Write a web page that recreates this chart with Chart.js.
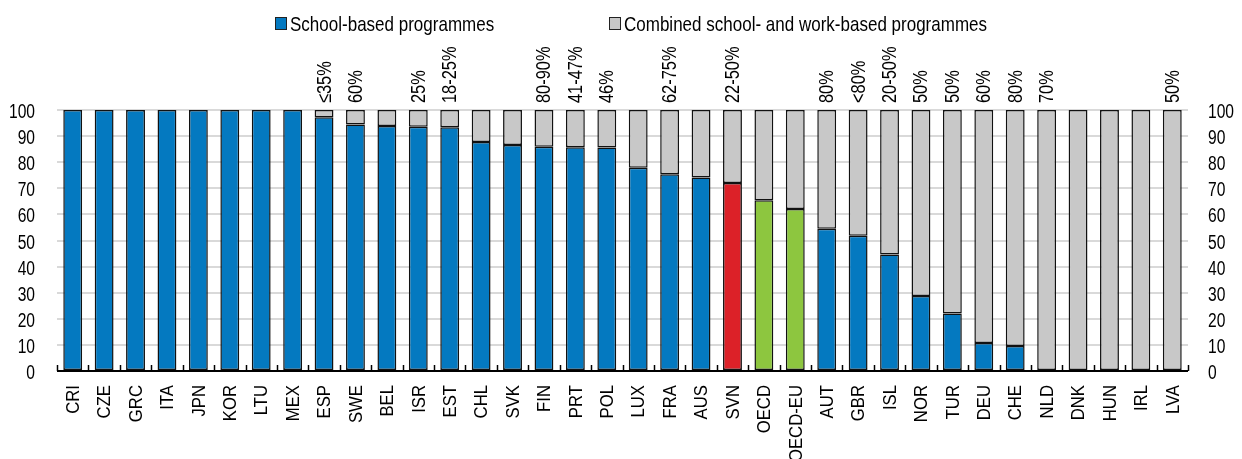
<!DOCTYPE html>
<html>
<head>
<meta charset="utf-8">
<script src="https://cdn.jsdelivr.net/npm/chart.js@4"></script>
<style>
  body { margin: 0; background: #fff; }
</style>
</head>
<body>
<canvas id="chart" width="1242" height="459"></canvas>
<script>
const countries = ['CRI','CZE','GRC','ITA','JPN','KOR','LTU','MEX','ESP','SWE','BEL','ISR','EST','CHL','SVK','FIN','PRT','POL','LUX','FRA','AUS','SVN','OECD','OECD-EU','AUT','GBR','ISL','NOR','TUR','DEU','CHE','NLD','DNK','HUN','IRL','LVA'];
const schoolBased = [100,100,100,100,100,100,100,100,97.2,94.4,93.9,93.6,93.4,87.7,86.6,85.9,85.7,85.6,77.9,75.4,74.1,72.0,65.4,62.1,54.5,51.8,44.6,28.7,22.0,10.7,9.6,0,0,0,0,0];
const combined = schoolBased.map(v => +(100 - v).toFixed(1));
const topNotes = ['','','','','','','','','≤35%','60%','','25%','18-25%','','','80-90%','41-47%','46%','','62-75%','','22-50%','','','80%','<80%','20-50%','50%','50%','60%','80%','70%','','','','50%'];
const legendLabels = ['School-based programmes', 'Combined school- and work-based programmes'];

const BLUE = '#0479c0', GREY = '#c8c8c8', RED = '#dc2128', GREEN = '#8dc63f';
const highlight = { 'SVN': RED, 'OECD': GREEN, 'OECD-EU': GREEN };
const FONT = "'Liberation Sans', Arial, sans-serif";

// condensed text helper (no narrow font available)
function narrowText(ctx, text, x, y, size, squeeze, align, rot) {
  ctx.save();
  ctx.translate(x, y);
  if (rot) ctx.rotate(rot);
  ctx.scale(squeeze, 1);
  ctx.font = size + 'px ' + FONT;
  ctx.textAlign = align;
  ctx.fillText(text, 0, 0);
  ctx.restore();
}

const extras = {
  id: 'extras',
  afterDatasetsDraw(chart) {
    const ctx = chart.ctx, x = chart.scales.x, y = chart.scales.y, area = chart.chartArea;
    ctx.save();
    // axis line and inward tick marks
    ctx.strokeStyle = '#000';
    ctx.lineWidth = 2;
    ctx.beginPath();
    ctx.moveTo(area.left, area.bottom);
    ctx.lineTo(area.right, area.bottom);
    ctx.stroke();
    ctx.lineWidth = 1.5;
    const step = (area.right - area.left) / countries.length;
    for (let i = 0; i <= countries.length; i++) {
      const px = Math.round(area.left + i * step) + 0.5;
      ctx.beginPath();
      ctx.moveTo(px, area.bottom);
      ctx.lineTo(px, area.bottom - 6);
      ctx.stroke();
    }
    ctx.fillStyle = '#000';
    ctx.textBaseline = 'alphabetic';
    // y tick labels, both sides
    y.ticks.forEach(t => {
      const py = y.getPixelForValue(t.value) + 8;
      narrowText(ctx, String(t.value), area.left - 22, py, 20, 0.78, 'right');
      narrowText(ctx, String(t.value), area.right + 20, py, 20, 0.78, 'left');
    });
    // category labels, rotated
    ctx.textBaseline = 'middle';
    x.getLabels().forEach((lab, i) => {
      narrowText(ctx, lab, x.getPixelForValue(i) + 1, area.bottom + 14, 19, 0.88, 'right', -Math.PI / 2);
    });
    // percentage notes above bars
    topNotes.forEach((t, i) => {
      if (t) narrowText(ctx, t, x.getPixelForValue(i) + 1, area.top - 7, 20, 0.82, 'left', -Math.PI / 2);
    });
    // legend
    const items = [[275, BLUE], [609, GREY]];
    ctx.textBaseline = 'alphabetic';
    items.forEach(([lx, col], i) => {
      ctx.fillStyle = col;
      ctx.fillRect(lx + 0.5, 17.5, 11, 12);
      ctx.strokeStyle = '#222';
      ctx.lineWidth = 1;
      ctx.strokeRect(lx + 0.5, 17.5, 11, 12);
      ctx.fillStyle = '#000';
      narrowText(ctx, legendLabels[i], lx + 15, 31, 21, 0.81, 'left');
    });
    ctx.restore();
  }
};

new Chart(document.getElementById('chart').getContext('2d'), {
  type: 'bar',
  data: {
    labels: countries,
    datasets: [
      {
        label: legendLabels[0],
        data: schoolBased.map(v => v || null),
        backgroundColor: c => highlight[countries[c.dataIndex]] || BLUE,
        borderColor: '#111',
        borderWidth: 1.5,
        borderSkipped: false,
        stack: 's'
      },
      {
        label: legendLabels[1],
        data: combined.map(v => v || null),
        backgroundColor: GREY,
        borderColor: '#111',
        borderWidth: 1.5,
        borderSkipped: false,
        stack: 's'
      }
    ]
  },
  options: {
    responsive: false,
    animation: false,
    categoryPercentage: 1,
    barPercentage: 0.6,
    layout: { padding: { top: 110, left: 0, right: 0, bottom: 0 } },
    plugins: { legend: { display: false }, tooltip: { enabled: false } },
    scales: {
      x: {
        stacked: true,
        grid: { display: false },
        border: { display: false },
        ticks: { display: false },
        afterFit: s => { s.height = 88; }
      },
      y: {
        stacked: true, min: 0, max: 100, position: 'left',
        grid: { color: '#d9d9d9', lineWidth: 2, drawTicks: false },
        border: { display: false },
        ticks: { stepSize: 10, display: false },
        afterFit: s => { s.width = 57; }
      },
      y2: {
        min: 0, max: 100, position: 'right',
        grid: { display: false, drawTicks: false },
        border: { display: false },
        ticks: { stepSize: 10, display: false },
        afterFit: s => { s.width = 54; }
      }
    }
  },
  plugins: [extras]
});
</script>
</body>
</html>
